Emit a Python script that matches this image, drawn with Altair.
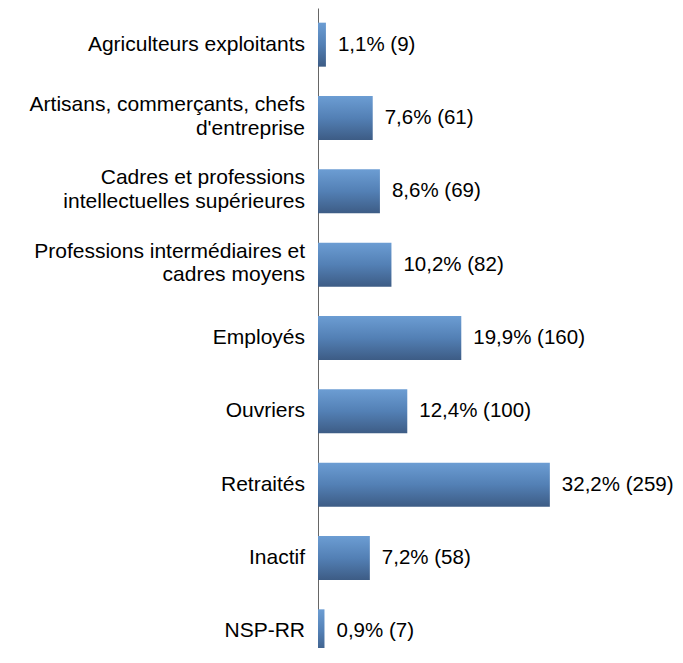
import altair as alt
import pandas as pd

line1 = [
    "Agriculteurs exploitants",
    "Artisans, commerçants, chefs",
    "Cadres et professions\u00a0",
    "Professions intermédiaires et\u00a0",
    "Employés",
    "Ouvriers",
    "Retraités",
    "Inactif",
    "NSP-RR",
]
line2 = ["", "d'entreprise", "intellectuelles supérieures", "cadres moyens", "", "", "", "", ""]
percents = [1.1, 7.6, 8.6, 10.2, 19.9, 12.4, 32.2, 7.2, 0.9]
counts = [9, 61, 69, 82, 160, 100, 259, 58, 7]

cats = [a + ("|" + b if b else "") for a, b in zip(line1, line2)]
labels = [f"{p:.1f}".replace(".", ",") + f"% ({n})" for p, n in zip(percents, counts)]
df = pd.DataFrame({"cat": cats, "l1": line1, "l2": line2, "pct": percents, "label": labels})

FONT = "Liberation Sans"
FS = 21

y = alt.Y(
    "cat:N",
    sort=cats,
    title=None,
    scale=alt.Scale(range=[0, 660], paddingInner=0.4, paddingOuter=0.2),
    axis=alt.Axis(labels=False, ticks=False, domainColor="#666666", domainWidth=1),
)
x = alt.X("pct:Q", axis=None, scale=alt.Scale(domain=[0, 357 / 7.2], range=[0, 357], nice=False))

grad = alt.Gradient(
    gradient="linear",
    x1=0, x2=0, y1=0, y2=1,
    stops=[
        alt.GradientStop(color="#6c9dd3", offset=0),
        alt.GradientStop(color="#5380b5", offset=0.5),
        alt.GradientStop(color="#3d5c85", offset=1),
    ],
)

base = alt.Chart(df).encode(y=y)
bars = base.mark_bar(color=grad).encode(x=x)
text = base.mark_text(
    align="left", baseline="middle", dx=12, font=FONT, fontSize=20.5, color="#000000"
).encode(x=x, text="label:N")

lab_kw = dict(align="right", baseline="middle", font=FONT, fontSize=FS, color="#000000")
single = base.mark_text(**lab_kw).encode(x=alt.value(-13), text="l1:N").transform_filter("datum.l2 == ''")
first = base.mark_text(dy=-13, **lab_kw).encode(x=alt.value(-13), text="l1:N").transform_filter("datum.l2 != ''")
second = base.mark_text(dy=10.5, **lab_kw).encode(x=alt.value(-13), text="l2:N").transform_filter("datum.l2 != ''")

chart = (
    alt.layer(bars, text, single, first, second)
    .properties(
        width=357,
        height=640,
        padding={"left": 310, "top": 0, "right": 0, "bottom": 0},
        autosize=alt.AutoSizeParams(type="none"),
    )
    .configure_view(stroke=None)
)

chart.save("out.html", embed_options={"renderer": "svg", "actions": False})
